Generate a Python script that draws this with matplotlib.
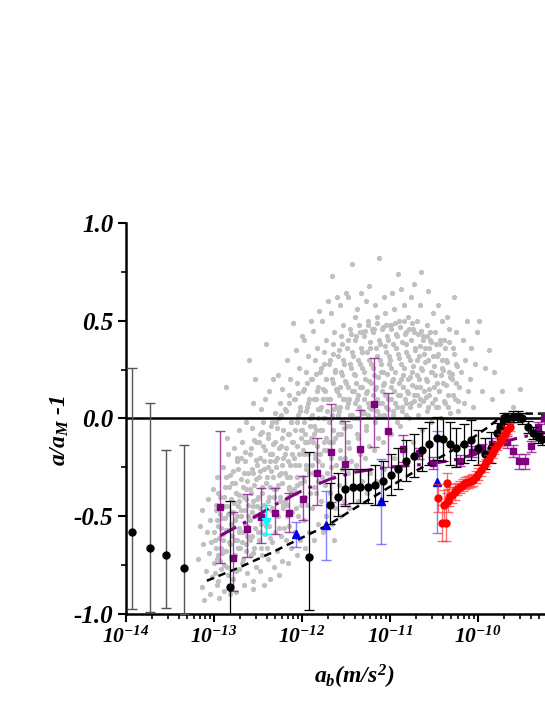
import numpy as np
import matplotlib
matplotlib.use("Agg")
import matplotlib.pyplot as plt
from matplotlib.ticker import FixedLocator, FormatStrFormatter, LogLocator, LogFormatterSciNotation

# ---- data (x given as log10 of a_b in m/s^2) ----

# grey background cloud (individual points)
bg_pts = [
    (-13.18,-0.72),(-13.16,-0.55),(-13.14,-0.86),(-13.12,-0.64),(-13.11,-0.93),(-13.13,-0.47),
    (-13.09,-0.78),(-13.08,-0.58),(-13.07,-0.41),(-13.06,-0.69),(-13.05,-0.90),(-13.04,-0.52),(-13.03,-0.63),(-13.02,-0.81),(-13.01,-0.36),(-13.00,-0.74),
    (-12.99,-0.62),(-12.98,-0.47),(-12.97,-0.85),(-12.96,-0.30),(-12.95,-0.70),(-12.95,-0.55),(-12.94,-0.92),(-12.93,-0.40),(-12.92,-0.66),(-12.92,-0.77),(-12.91,-0.51),(-12.90,-0.25),(-12.90,-0.59),(-12.97,-0.72),
    (-12.89,-0.45),(-12.88,-0.68),(-12.88,-0.88),(-12.87,-0.35),(-12.86,0.16),(-12.86,-0.57),(-12.85,-0.76),(-12.84,-0.18),(-12.84,-0.49),(-12.83,-0.63),(-12.82,-0.90),(-12.82,-0.29),(-12.81,-0.54),(-12.81,-0.71),(-12.80,-0.41),(-12.85,-0.10),
    (-12.79,-0.60),(-12.79,-0.33),(-12.78,-0.82),(-12.78,-0.48),(-12.77,-0.15),(-12.76,-0.70),(-12.76,-0.52),(-12.75,-0.38),(-12.75,-0.89),(-12.74,-0.62),(-12.73,-0.26),(-12.73,-0.45),(-12.72,-0.77),(-12.72,-0.56),(-12.71,-0.06),(-12.71,-0.42),(-12.70,-0.66),(-12.74,-0.20),
    (-12.69,-0.50),(-12.69,-0.31),(-12.68,-0.74),(-12.68,-0.12),(-12.67,-0.58),(-12.66,-0.40),(-12.66,-0.85),(-12.65,-0.22),(-12.65,-0.47),(-12.64,-0.64),(-12.63,-0.02),(-12.63,-0.36),(-12.62,-0.55),(-12.62,-0.79),(-12.61,-0.28),(-12.61,-0.44),(-12.60,0.30),(-12.64,-0.68),
    (-12.59,-0.52),(-12.59,-0.18),(-12.58,-0.70),(-12.58,-0.38),(-12.57,-0.05),(-12.57,-0.60),(-12.56,-0.28),(-12.56,-0.83),(-12.55,-0.45),(-12.55,0.08),(-12.54,-0.34),(-12.54,-0.66),(-12.53,0.20),(-12.53,-0.50),(-12.52,-0.12),(-12.52,-0.76),(-12.51,-0.41),(-12.51,-0.24),(-12.50,-0.58),(-12.56,-0.87),
    (-12.49,-0.30),(-12.49,-0.62),(-12.48,-0.08),(-12.48,-0.46),(-12.47,-0.78),(-12.47,-0.20),(-12.46,-0.54),(-12.46,0.05),(-12.45,-0.38),(-12.45,-0.70),(-12.44,-0.14),(-12.44,-0.48),(-12.43,-0.85),(-12.43,-0.26),(-12.42,0.10),(-12.42,-0.59),(-12.41,0.38),(-12.41,-0.33),(-12.40,-0.66),(-12.44,-0.02),
    (-12.39,-0.42),(-12.39,-0.10),(-12.38,-0.72),(-12.38,-0.25),(-12.37,0.14),(-12.37,-0.55),(-12.36,-0.35),(-12.36,-0.82),(-12.35,-0.04),(-12.35,-0.47),(-12.34,-0.18),(-12.34,-0.63),(-12.33,0.20),(-12.33,-0.30),(-12.32,-0.76),(-12.32,-0.40),(-12.31,-0.12),(-12.31,-0.58),(-12.30,0.03),(-12.36,-0.22),
    (-12.29,-0.36),(-12.29,-0.02),(-12.28,-0.68),(-12.28,-0.20),(-12.27,0.22),(-12.27,-0.50),(-12.26,-0.29),(-12.26,-0.80),(-12.25,0.08),(-12.25,-0.42),(-12.24,-0.14),(-12.24,-0.60),(-12.23,-0.33),(-12.23,0.15),(-12.22,-0.73),(-12.22,-0.24),(-12.21,-0.06),(-12.21,-0.46),(-12.20,-0.56),(-12.26,0.00),
    (-12.19,-0.28),(-12.19,0.05),(-12.18,-0.62),(-12.18,-0.15),(-12.17,0.30),(-12.17,-0.44),(-12.16,-0.22),(-12.16,-0.74),(-12.15,0.12),(-12.15,-0.36),(-12.14,-0.08),(-12.14,-0.55),(-12.13,0.20),(-12.13,-0.30),(-12.12,-0.66),(-12.12,-0.02),(-12.11,-0.18),(-12.11,-0.48),(-12.10,0.49),(-12.16,-0.40),
    (-12.09,-0.20),(-12.09,0.10),(-12.08,-0.58),(-12.08,-0.06),(-12.07,0.35),(-12.07,-0.38),(-12.06,-0.14),(-12.06,-0.70),(-12.05,0.18),(-12.05,-0.30),(-12.04,0.02),(-12.04,-0.50),(-12.03,0.26),(-12.03,-0.24),(-12.02,-0.62),(-12.02,0.06),(-12.01,-0.10),(-12.01,-0.44),(-12.00,0.42),(-12.06,-0.34),
    (-11.99,-0.16),(-11.99,0.14),(-11.98,-0.52),(-11.98,-0.02),(-11.97,0.40),(-11.97,-0.32),(-11.96,-0.08),(-11.96,-0.66),(-11.95,0.24),(-11.95,-0.26),(-11.94,0.06),(-11.94,-0.44),(-11.93,0.32),(-11.93,-0.18),(-11.92,-0.58),(-11.92,0.10),(-11.91,-0.04),(-11.91,-0.38),(-11.90,0.50),(-11.96,-0.12),
    (-11.89,-0.10),(-11.89,0.20),(-11.88,-0.46),(-11.88,0.02),(-11.87,0.45),(-11.87,-0.28),(-11.86,-0.04),(-11.86,-0.62),(-11.85,0.30),(-11.85,-0.20),(-11.84,0.10),(-11.84,-0.38),(-11.83,0.36),(-11.83,-0.14),(-11.82,-0.54),(-11.82,0.16),(-11.81,0.00),(-11.81,-0.32),(-11.80,0.55),(-11.86,-0.08),
    (-11.79,-0.06),(-11.79,0.24),(-11.78,-0.42),(-11.78,0.06),(-11.77,0.50),(-11.77,-0.24),(-11.76,0.00),(-11.76,-0.58),(-11.75,0.34),(-11.75,-0.16),(-11.74,0.14),(-11.74,-0.34),(-11.73,0.40),(-11.73,-0.10),(-11.72,-0.50),(-11.72,0.20),(-11.71,0.04),(-11.71,-0.28),(-11.70,0.60),(-11.76,0.10),
    (-11.69,-0.02),(-11.69,0.28),(-11.68,-0.38),(-11.68,0.10),(-11.67,0.54),(-11.67,-0.20),(-11.66,0.73),(-11.66,-0.54),(-11.65,0.38),(-11.65,-0.12),(-11.64,0.18),(-11.64,-0.30),(-11.63,0.44),(-11.63,-0.62),(-11.62,-0.46),(-11.62,0.24),(-11.61,0.06),(-11.61,-0.24),(-11.60,0.62),(-11.66,0.02),
    (-11.59,0.02),(-11.59,0.32),(-11.58,-0.34),(-11.58,0.12),(-11.57,0.58),(-11.57,-0.16),(-11.56,0.06),(-11.56,-0.50),(-11.55,0.42),(-11.55,-0.08),(-11.54,0.22),(-11.54,-0.26),(-11.53,0.48),(-11.53,-0.02),(-11.52,-0.42),(-11.52,0.28),(-11.51,0.10),(-11.51,-0.20),(-11.50,0.64),(-11.56,0.16),
    (-11.49,0.06),(-11.49,0.36),(-11.48,-0.28),(-11.48,0.16),(-11.47,0.62),(-11.47,-0.12),(-11.46,0.10),(-11.46,-0.46),(-11.45,0.46),(-11.45,-0.04),(-11.44,0.26),(-11.44,-0.22),(-11.43,0.79),(-11.43,0.02),(-11.42,-0.36),(-11.42,0.32),(-11.41,0.14),(-11.40,0.52),
    (-11.39,0.08),(-11.39,0.40),(-11.38,-0.24),(-11.38,0.18),(-11.37,0.56),(-11.37,-0.08),(-11.36,0.12),(-11.36,-0.42),(-11.35,0.48),(-11.35,0.00),(-11.34,0.28),(-11.34,-0.18),(-11.33,0.64),(-11.33,0.04),(-11.32,-0.32),(-11.32,0.34),(-11.31,0.16),(-11.30,0.44),
    (-11.29,0.10),(-11.29,0.42),(-11.28,-0.20),(-11.28,0.20),(-11.27,0.60),(-11.27,-0.04),(-11.26,0.14),(-11.26,-0.38),(-11.25,0.50),(-11.25,0.02),(-11.24,0.30),(-11.24,-0.14),(-11.23,0.68),(-11.23,0.06),(-11.22,-0.28),(-11.22,0.36),(-11.21,0.18),(-11.20,0.46),
    (-11.19,0.12),(-11.19,0.44),(-11.18,-0.16),(-11.18,0.22),(-11.17,0.58),(-11.17,0.00),(-11.16,0.16),(-11.16,-0.32),(-11.15,0.52),(-11.14,0.04),(-11.14,0.32),(-11.13,-0.10),(-11.12,0.82),(-11.12,0.08),(-11.11,0.38),(-11.10,0.24),
    (-11.09,0.14),(-11.09,0.46),(-11.08,-0.12),(-11.08,0.24),(-11.07,0.62),(-11.07,0.02),(-11.06,0.18),(-11.06,-0.26),(-11.05,0.54),(-11.04,0.06),(-11.04,0.34),(-11.03,-0.06),(-11.02,0.40),(-11.02,0.10),(-11.01,0.28),(-11.00,0.48),
    (-10.99,0.16),(-10.99,0.48),(-10.98,-0.08),(-10.98,0.26),(-10.97,0.64),(-10.96,0.04),(-10.96,0.20),(-10.95,-0.20),(-10.95,0.56),(-10.94,0.08),(-10.93,0.36),(-10.92,-0.02),(-10.92,0.42),(-10.91,0.12),(-10.90,0.74),
    (-10.89,0.18),(-10.89,0.50),(-10.88,-0.04),(-10.87,0.28),(-10.87,0.66),(-10.86,0.06),(-10.85,0.22),(-10.85,-0.16),(-10.84,0.58),(-10.83,0.10),(-10.82,0.38),(-10.82,0.02),(-10.81,0.44),(-10.80,0.14),
    (-10.79,0.20),(-10.79,0.52),(-10.78,0.00),(-10.77,0.30),(-10.76,0.62),(-10.76,0.08),(-10.75,0.24),(-10.74,-0.12),(-10.73,0.46),(-10.72,0.69),(-10.72,0.12),(-10.71,0.36),(-10.70,0.16),
    (-10.69,0.22),(-10.69,0.50),(-10.68,0.02),(-10.67,0.32),(-10.66,0.58),(-10.65,0.10),(-10.64,0.75),(-10.64,0.26),(-10.63,-0.06),(-10.62,0.42),(-10.61,0.14),(-10.60,0.36),
    (-10.59,0.20),(-10.58,0.48),(-10.57,0.04),(-10.56,0.65),(-10.56,0.30),(-10.55,0.12),(-10.54,0.40),(-10.53,-0.02),(-10.52,0.24),(-10.51,0.54),(-10.50,0.16),
    (-10.49,0.22),(-10.48,0.44),(-10.47,0.06),(-10.46,0.32),(-10.45,0.58),(-10.44,0.14),(-10.43,0.38),(-10.42,0.00),(-10.41,0.26),(-10.40,0.50),
    (-10.39,0.18),(-10.38,0.40),(-10.37,0.08),(-10.36,0.30),(-10.35,0.52),(-10.34,0.12),(-10.33,0.24),(-10.32,0.46),(-10.31,0.03),
    (-10.29,0.20),(-10.28,0.36),(-10.27,0.62),(-10.26,0.10),(-10.25,0.28),(-10.24,0.44),(-10.22,0.04),(-10.21,0.16),
    (-10.19,0.24),(-10.17,0.40),(-10.16,0.08),(-10.14,0.30),(-10.12,0.50),(-10.11,0.14),
    (-10.09,0.20),(-10.07,0.36),(-10.05,0.06),(-10.03,0.28),(-10.01,0.44),
    (-9.98,0.50),(-9.95,0.14),(-9.92,0.26),(-9.87,0.35),(-9.84,0.10),(-9.81,0.24),
    (-9.72,0.14),(-9.60,0.06),(-9.52,0.15),
]

# denser core of the grey cloud
bg_core = [
    (-12.995,-0.58),(-12.988,-0.79),(-12.980,-0.44),(-12.972,-0.66),(-12.965,-0.52),(-12.957,-0.83),(-12.950,-0.38),(-12.942,-0.61),(-12.934,-0.73),(-12.926,-0.49),(-12.918,-0.56),(-12.910,-0.69),
    (-12.895,-0.62),(-12.888,-0.40),(-12.880,-0.75),(-12.872,-0.51),(-12.865,-0.30),(-12.857,-0.68),(-12.850,-0.45),(-12.842,-0.80),(-12.834,-0.57),(-12.826,-0.35),(-12.818,-0.64),(-12.810,-0.48),
    (-12.795,-0.55),(-12.788,-0.27),(-12.780,-0.71),(-12.772,-0.43),(-12.765,-0.62),(-12.757,-0.33),(-12.750,-0.78),(-12.742,-0.50),(-12.734,-0.22),(-12.726,-0.66),(-12.718,-0.39),(-12.710,-0.58),
    (-12.695,-0.47),(-12.688,-0.20),(-12.680,-0.63),(-12.672,-0.35),(-12.665,-0.72),(-12.657,-0.28),(-12.650,-0.54),(-12.642,-0.17),(-12.634,-0.41),(-12.626,-0.60),(-12.618,-0.32),(-12.610,-0.50),
    (-12.595,-0.36),(-12.588,-0.62),(-12.580,-0.15),(-12.572,-0.48),(-12.565,-0.26),(-12.557,-0.69),(-12.550,-0.42),(-12.542,-0.11),(-12.534,-0.56),(-12.526,-0.31),(-12.518,-0.21),(-12.510,-0.45),
    (-12.495,-0.40),(-12.488,-0.12),(-12.480,-0.58),(-12.472,-0.27),(-12.465,-0.66),(-12.457,-0.35),(-12.450,-0.07),(-12.442,-0.50),(-12.434,-0.22),(-12.426,-0.44),(-12.418,-0.16),(-12.410,-0.55),
    (-12.395,-0.30),(-12.388,-0.52),(-12.380,-0.08),(-12.372,-0.40),(-12.365,-0.18),(-12.357,-0.61),(-12.350,-0.27),(-12.342,-0.02),(-12.334,-0.46),(-12.326,-0.13),(-12.318,-0.36),(-12.310,-0.22),
    (-12.295,-0.25),(-12.288,-0.48),(-12.280,-0.05),(-12.272,-0.34),(-12.265,-0.56),(-12.257,-0.15),(-12.250,-0.40),(-12.242,0.02),(-12.234,-0.28),(-12.226,-0.10),(-12.218,-0.44),(-12.210,-0.20),
    (-12.195,-0.18),(-12.188,-0.42),(-12.180,0.04),(-12.172,-0.30),(-12.165,-0.50),(-12.157,-0.08),(-12.150,-0.35),(-12.142,0.08),(-12.134,-0.24),(-12.126,-0.02),(-12.118,-0.38),(-12.110,-0.12),
    (-12.095,-0.12),(-12.088,-0.36),(-12.080,0.10),(-12.072,-0.24),(-12.065,-0.46),(-12.057,-0.02),(-12.050,-0.30),(-12.042,0.13),(-12.034,-0.18),(-12.026,0.04),(-12.018,-0.33),(-12.010,-0.06),
    (-11.995,-0.06),(-11.988,-0.30),(-11.980,0.15),(-11.972,-0.18),(-11.965,-0.40),(-11.957,0.04),(-11.950,-0.24),(-11.942,0.18),(-11.934,-0.12),(-11.926,0.08),(-11.918,-0.28),(-11.910,0.00),
    (-11.895,0.00),(-11.888,-0.24),(-11.880,0.20),(-11.872,-0.12),(-11.865,-0.35),(-11.857,0.10),(-11.850,-0.18),(-11.842,0.23),(-11.834,-0.06),(-11.826,0.14),(-11.818,-0.22),(-11.810,0.05),
    (-11.795,0.05),(-11.788,-0.18),(-11.780,0.26),(-11.772,-0.06),(-11.765,-0.30),(-11.757,0.15),(-11.750,-0.12),(-11.742,0.28),(-11.734,0.00),(-11.726,0.20),(-11.718,-0.16),(-11.710,0.10),
    (-11.695,0.10),(-11.688,-0.12),(-11.680,0.30),(-11.672,0.00),(-11.665,-0.25),(-11.657,0.20),(-11.650,-0.06),(-11.642,0.33),(-11.634,0.05),(-11.626,0.25),(-11.618,-0.10),(-11.610,0.15),
    (-11.595,0.14),(-11.588,-0.08),(-11.580,0.35),(-11.572,0.04),(-11.565,-0.20),(-11.557,0.24),(-11.550,-0.02),(-11.542,0.38),(-11.534,0.10),(-11.526,0.30),(-11.518,-0.05),(-11.510,0.19),
    (-11.495,0.18),(-11.488,-0.04),(-11.480,0.40),(-11.472,0.08),(-11.465,-0.15),(-11.457,0.28),(-11.450,0.02),(-11.442,0.43),(-11.434,0.14),(-11.426,0.34),(-11.418,0.00),(-11.410,0.23),
    (-11.395,0.22),(-11.388,0.00),(-11.380,0.42),(-11.372,0.10),(-11.365,-0.10),(-11.357,0.30),(-11.350,0.06),(-11.342,0.44),(-11.334,0.16),(-11.326,0.36),(-11.318,0.03),(-11.310,0.26),
    (-11.295,0.24),(-11.288,0.03),(-11.280,0.45),(-11.272,0.13),(-11.265,-0.06),(-11.257,0.34),(-11.250,0.08),(-11.242,0.48),(-11.234,0.19),(-11.226,0.39),(-11.218,0.05),(-11.210,0.28),
    (-11.195,0.26),(-11.188,0.06),(-11.180,0.46),(-11.172,0.15),(-11.165,-0.02),(-11.157,0.36),(-11.150,0.10),(-11.142,0.49),(-11.134,0.21),(-11.126,0.40),(-11.118,0.02),(-11.110,0.30),
    (-11.095,0.28),(-11.088,0.08),(-11.080,0.47),(-11.072,0.17),(-11.065,0.01),(-11.057,0.37),(-11.050,0.12),(-11.042,0.48),(-11.034,0.23),(-11.026,0.42),(-11.018,0.05),(-11.010,0.32),
    (-10.995,0.30),(-10.988,0.10),(-10.980,0.46),(-10.972,0.19),(-10.965,0.02),(-10.957,0.38),(-10.950,0.14),(-10.942,0.49),(-10.934,0.24),(-10.926,0.43),(-10.918,0.06),(-10.910,0.33),
    (-10.895,0.31),(-10.888,0.12),(-10.880,0.47),(-10.872,0.20),(-10.865,0.04),(-10.857,0.39),(-10.850,0.16),(-10.842,0.50),(-10.834,0.26),(-10.826,0.43),(-10.818,0.08),(-10.810,0.34),
    (-10.795,0.32),(-10.788,0.13),(-10.780,0.46),(-10.772,0.21),(-10.765,0.06),(-10.757,0.40),(-10.750,0.17),(-10.742,0.49),(-10.734,0.27),(-10.726,0.44),(-10.718,0.09),(-10.710,0.35),
    (-10.695,0.30),(-10.688,0.12),(-10.680,0.43),(-10.672,0.20),(-10.665,0.07),(-10.657,0.37),(-10.650,0.16),(-10.642,0.45),(-10.634,0.25),(-10.626,0.40),(-10.618,0.09),(-10.610,0.33),
    (-10.595,0.29),(-10.588,0.11),(-10.580,0.42),(-10.572,0.19),(-10.565,0.06),(-10.557,0.36),(-10.550,0.15),(-10.542,0.44),(-10.534,0.24),(-10.526,0.39),(-10.518,0.08),(-10.510,0.32),
    (-10.495,0.27),(-10.485,0.10),(-10.475,0.38),(-10.465,0.18),(-10.455,0.06),(-10.445,0.33),(-10.435,0.14),(-10.425,0.40),(-10.415,0.22),(-10.405,0.30),
    (-10.395,0.25),(-10.383,0.09),(-10.371,0.36),(-10.359,0.17),(-10.347,0.29),(-10.335,0.06),(-10.323,0.39),(-10.311,0.21),
    (-10.295,0.23),(-10.280,0.12),(-10.265,0.33),(-10.250,0.18),(-10.235,0.27),(-10.220,0.09),
]

# low-acceleration black points (large grey error bars)
low_x = [-13.935, -13.73, -13.545, -13.344]
low_y = [-0.58, -0.66, -0.70, -0.765]
low_lo = [0.395, 0.33, 0.27, 0.235]
low_hi = [0.84, 0.74, 0.54, 0.63]

# main black binned series
blk_x = [-12.82, -11.92, -11.68, -11.59, -11.51, -11.42, -11.34, -11.25, -11.17, -11.08,
         -10.99, -10.90, -10.81, -10.72, -10.63, -10.55, -10.46, -10.39, -10.31, -10.24,
         -10.16, -10.08, -10.00, -9.92, -9.85, -9.78, -9.74, -9.70, -9.65, -9.60,
         -9.54, -9.49, -9.43, -9.37, -9.31, -9.27]
blk_y = [-0.86, -0.71, -0.44, -0.40, -0.36, -0.35, -0.35, -0.35, -0.34, -0.32,
         -0.29, -0.26, -0.22, -0.19, -0.16, -0.13, -0.10, -0.105, -0.13, -0.15,
         -0.13, -0.11, -0.15, -0.18, -0.15, -0.075, -0.045, -0.01, 0.0, 0.01,
         0.01, 0.0, -0.045, -0.075, -0.095, -0.105]
blk_lo = [0.20, 0.27, 0.10, 0.10, 0.09, 0.08, 0.08, 0.08, 0.10, 0.10,
          0.10, 0.10, 0.10, 0.11, 0.11, 0.11, 0.11, 0.11, 0.11, 0.10,
          0.10, 0.10, 0.09, 0.08, 0.08, 0.05, 0.04, 0.04, 0.03, 0.03,
          0.03, 0.03, 0.03, 0.03, 0.03, 0.03]
blk_hi = [0.44, 0.54, 0.11, 0.12, 0.10, 0.09, 0.09, 0.09, 0.10, 0.10,
          0.11, 0.11, 0.11, 0.11, 0.11, 0.11, 0.11, 0.11, 0.11, 0.10,
          0.10, 0.10, 0.09, 0.08, 0.08, 0.05, 0.04, 0.04, 0.03, 0.03,
          0.03, 0.03, 0.03, 0.03, 0.03, 0.03]

# purple squares
pur_x = [-12.93, -12.78, -12.62, -12.46, -12.30, -12.14, -11.985, -11.83, -11.67, -11.51,
         -11.34, -11.18, -11.02, -10.85, -10.67, -10.51, -10.20, -10.06, -9.95, -9.84,
         -9.67, -9.60, -9.53, -9.46, -9.39, -9.31, -9.25]
pur_y = [-0.454, -0.716, -0.564, -0.506, -0.483, -0.484, -0.413, -0.28, -0.169, -0.232,
         -0.157, 0.072, -0.065, -0.157, -0.177, -0.226, -0.215, -0.169, -0.15, -0.13,
         -0.122, -0.165, -0.22, -0.22, -0.143, -0.046, 0.0]
pur_lo = [0.284, 0.167, 0.147, 0.132, 0.11, 0.096, 0.105, 0.16, 0.257, 0.204,
          0.194, 0.219, 0.184, 0.065, 0.03, 0.03, 0.03, 0.03, 0.02, 0.03,
          0.03, 0.03, 0.04, 0.04, 0.03, 0.03, 0.03]
pur_hi = [0.389, 0.24, 0.177, 0.148, 0.125, 0.102, 0.118, 0.18, 0.244, 0.217,
          0.20, 0.238, 0.196, 0.073, 0.027, 0.03, 0.03, 0.03, 0.02, 0.03,
          0.03, 0.03, 0.04, 0.04, 0.03, 0.03, 0.03]

# cyan point
cyan_x = [-12.41]
cyan_y = [-0.53]
cyan_lo = [0.062]
cyan_hi = [0.087]

# blue triangles
blue_x = [-12.07, -11.72, -11.10, -10.46]
blue_y = [-0.59, -0.544, -0.423, -0.326]
blue_lo = [0.068, 0.182, 0.218, 0.261]
blue_hi = [0.06, 0.172, 0.217, 0.261]

# red circles
red_x = [-10.45, -10.35, -10.41, -10.36, -10.38, -10.34, -10.32, -10.29, -10.26, -10.23,
         -10.20, -10.17, -10.14, -10.11, -10.08, -10.05, -10.02, -9.99, -9.96, -9.93,
         -9.90, -9.87, -9.84, -9.81, -9.78, -9.75, -9.72, -9.69, -9.66, -9.63]
red_y = [-0.406, -0.33, -0.535, -0.537, -0.445, -0.42, -0.40, -0.39, -0.375, -0.36,
         -0.35, -0.34, -0.33, -0.325, -0.32, -0.315, -0.30, -0.285, -0.265, -0.245,
         -0.225, -0.205, -0.18, -0.16, -0.14, -0.12, -0.10, -0.08, -0.06, -0.045]
red_err = [0.07, 0.05, 0.09, 0.09, 0.08, 0.06, 0.05, 0.04, 0.04, 0.03,
           0.03, 0.03, 0.03, 0.03, 0.03, 0.03, 0.03, 0.03, 0.03, 0.03,
           0.02, 0.02, 0.02, 0.02, 0.02, 0.02, 0.02, 0.02, 0.02, 0.02]

# model curves
dash_x = [-13.08, -12.7, -12.36, -12.0, -11.70, -11.4, -11.0, -10.73, -10.55, -10.32,
          -10.09, -9.9, -9.71, -9.5, -9.2]
dash_y = [-0.83, -0.76, -0.69, -0.61, -0.545, -0.46, -0.35, -0.275, -0.23, -0.172,
          -0.11, -0.05, 0.015, 0.025, 0.025]
dd_x = [-12.93, -12.6, -12.3, -12.0, -11.68, -11.4, -11.04, -10.75, -10.51, -10.25,
        -10.01, -9.75, -9.5, -9.2]
dd_y = [-0.60, -0.52, -0.44, -0.37, -0.31, -0.275, -0.25, -0.24, -0.23, -0.21,
        -0.18, -0.125, -0.095, -0.07]

x_major = [1e-14, 1e-13, 1e-12, 1e-11, 1e-10]
y_major = [-1.0, -0.5, 0.0, 0.5, 1.0]
y_minor = [-0.75, -0.25, 0.25, 0.75]


def p10(v):
    return 10.0 ** np.asarray(v)


plt.rcParams['axes.unicode_minus'] = False
plt.rcParams['mathtext.fontset'] = 'custom'
plt.rcParams['mathtext.it'] = 'Liberation Serif:bold:italic'
plt.rcParams['mathtext.rm'] = 'Liberation Serif:bold:italic'
plt.rcParams['mathtext.bf'] = 'Liberation Serif:bold:italic'
plt.rcParams['font.family'] = 'Liberation Serif'
plt.rcParams['font.weight'] = 'bold'
plt.rcParams['font.style'] = 'italic'

fig = plt.figure(figsize=(5.45, 7.05), dpi=100)
ax = fig.add_axes([0.2312, 0.1291, 0.8064, 0.5546])

bgx = [p[0] for p in bg_pts] + [p[0] for p in bg_core]
bgy = [p[1] for p in bg_pts] + [p[1] for p in bg_core]
ax.plot(p10(bgx), bgy, 'o', color='#c0c0c0', ms=3.8, mec='none', zorder=1)

ax.axhline(0, color='black', lw=1.8, zorder=2)

ax.plot(p10(dash_x), dash_y, color='black', lw=1.8, ls=(0, (3, 2)), zorder=3)
ax.plot(p10(dd_x), dd_y, color='#800080', lw=2.2, ls=(0, (6, 2.5, 1.2, 2.5)), zorder=3)

ax.errorbar(p10(low_x), low_y, yerr=[low_lo, low_hi], fmt='o', color='black', ms=5,
            ecolor='#555555', elinewidth=1.0, capsize=3.5, capthick=1.0, zorder=4)

ax.errorbar(p10(pur_x), pur_y, yerr=[pur_lo, pur_hi], fmt='s', color='#800080', ms=5,
            ecolor=(0.55, 0.1, 0.55, 0.8), elinewidth=1.0, capsize=3.5, capthick=1.0, zorder=5)

ax.errorbar(p10(cyan_x), cyan_y, yerr=[cyan_lo, cyan_hi], fmt='v', color='cyan', ms=5.5,
            ecolor='cyan', elinewidth=1.0, capsize=3.5, capthick=1.0, zorder=5)

ax.errorbar(p10(blue_x), blue_y, yerr=[blue_lo, blue_hi], fmt='^', color='blue', ms=5.5,
            ecolor=(0.3, 0.3, 1.0, 0.7), elinewidth=1.0, capsize=3.5, capthick=1.0, zorder=5)

ax.errorbar(p10(blk_x), blk_y, yerr=[blk_lo, blk_hi], fmt='o', color='black', ms=5,
            ecolor='black', elinewidth=0.9, capsize=3.5, capthick=0.9, zorder=6)

ax.errorbar(p10(red_x), red_y, yerr=red_err, fmt='o', color='red', ms=5,
            ecolor=(1.0, 0.2, 0.2, 0.7), elinewidth=1.0, capsize=3.5, capthick=1.0, zorder=7)

ax.set_xscale('log')
ax.set_xlim(1e-14, 1e-9)
ax.set_ylim(-1.0, 1.0)

ax.yaxis.set_major_locator(FixedLocator(y_major))
ax.yaxis.set_minor_locator(FixedLocator(y_minor))
ax.yaxis.set_major_formatter(FormatStrFormatter('%.1f'))
ax.xaxis.set_major_locator(FixedLocator(x_major))
ax.xaxis.set_major_formatter(LogFormatterSciNotation())
ax.xaxis.set_minor_locator(LogLocator(base=10, subs=np.arange(2, 10), numticks=20))

for side in ['top', 'right']:
    ax.spines[side].set_visible(False)
for side in ['left', 'bottom']:
    ax.spines[side].set_linewidth(1.8)

ax.tick_params(which='major', direction='out', length=6, width=1.5, pad=3)
ax.tick_params(which='minor', direction='out', length=3.5, width=1.2)
ax.tick_params(axis='y', which='major', labelsize=18)
ax.tick_params(axis='x', which='major', labelsize=15.5)
for lab in ax.get_xticklabels() + ax.get_yticklabels():
    lab.set_fontweight('bold')
    lab.set_fontstyle('italic')

ax.set_ylabel(r'$a/a_M$ -1', fontsize=17, fontweight='bold', fontstyle='italic')
ax.yaxis.set_label_coords(-0.125, 0.47)
ax.set_xlabel(r'$a_b(m/s^2)$', fontsize=17)
ax.xaxis.set_label_coords(0.52, -0.125)

fig.savefig('out.png', dpi=100)
